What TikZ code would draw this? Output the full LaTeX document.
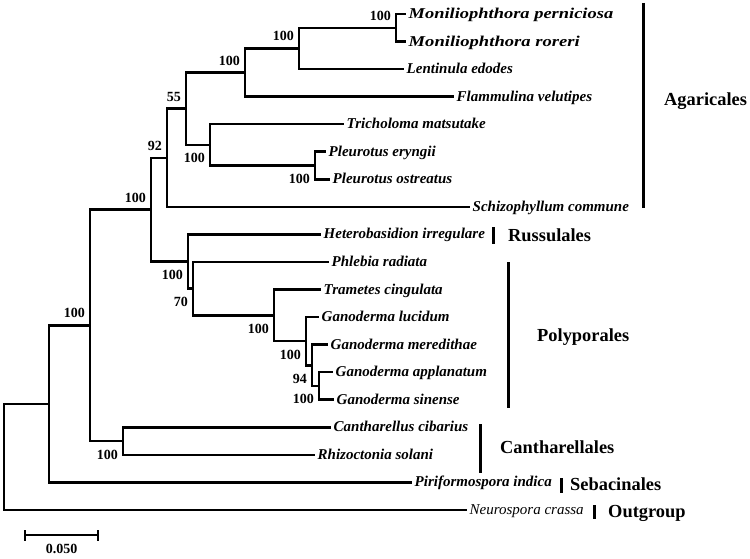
\documentclass[tikz,border=0pt]{standalone}
\usepackage{fontspec}
\setmainfont{Liberation Serif}
\usetikzlibrary{calc}

\begin{document}
\begin{tikzpicture}[x=1pt,y=-1pt,
    branch/.style={line width=2.5pt},
    taxon/.style={anchor=west,inner xsep=2.5pt,inner ysep=0pt,text height=13pt,text depth=4pt,
        font=\fontsize{15}{15}\selectfont\bfseries\itshape},
    boot/.style={anchor=east,inner sep=0pt,font=\fontsize{14}{14}\selectfont\bfseries},
    order/.style={anchor=base west,inner sep=0pt,font=\fontsize{18.4}{18.4}\selectfont\bfseries},
    cladebar/.style={line width=3pt}]
    \useasboundingbox (0,0) rectangle (750,559); % page size of the reference

    % taxa, one every 27.55pt from the top
    \foreach \n/\t/\x [count=\i from 0] in {
            mper/\scalebox{1.23}[1]{Moniliophthora perniciosa}/406, mror/\scalebox{1.24}[1]{Moniliophthora roreri}/406,
            lede/Lentinula edodes/404, fvel/Flammulina velutipes/454,
            tmat/Tricholoma matsutake/344, pery/Pleurotus eryngii/326,
            post/Pleurotus ostreatus/330, scom/Schizophyllum commune/470,
            hirr/Heterobasidion irregulare/321, prad/Phlebia radiata/329,
            tcin/Trametes cingulata/321, gluc/Ganoderma lucidum/319,
            gmer/Ganoderma meredithae/328, gapp/Ganoderma applanatum/333,
            gsin/Ganoderma sinense/334, ccib/Cantharellus cibarius/331,
            rsol/Rhizoctonia solani/315, pind/Piriformospora indica/412}{
            \node[taxon] (\n) at (\x,{14+27.55*\i}) {\t};
        }
    \node[taxon,font=\fontsize{15}{15}\selectfont\itshape] (ncra) at (467,509.9) {Neurospora crassa}; % outgroup, not bold

    % inner nodes of the tree
    \coordinate (nMon) at (396,27.8);
    \coordinate (nLent) at (299,48.4);
    \coordinate (nFlam) at (245,72.5);
    \coordinate (nPleu) at (315,165.5);
    \coordinate (nTric) at (210,144.9);
    \coordinate (n55) at (186,108.7);
    \coordinate (n92) at (167,157.8);
    \coordinate (nGap) at (319,385.9);
    \coordinate (n94) at (312,365.3);
    \coordinate (nGan) at (306,341.2);
    \coordinate (nTram) at (274,315.3);
    \coordinate (n70) at (193,288.6);
    \coordinate (nRus) at (188,261.5);
    \coordinate (nAga) at (151,209.6);
    \coordinate (nCan) at (123,441.0);
    \coordinate (nBas) at (90,325.3);
    \coordinate (nSeb) at (49,403.8);
    \coordinate (root) at (4,456.9);

    % branches, parent to child
    \foreach \a/\b in {nMon/mper,nMon/mror,nLent/nMon,nLent/lede,nFlam/nLent,nFlam/fvel,
            nPleu/pery,nPleu/post,nTric/tmat,nTric/nPleu,n55/nFlam,n55/nTric,n92/n55,n92/scom,
            nGap/gapp,nGap/gsin,n94/gmer,n94/nGap,nGan/gluc,nGan/n94,nTram/tcin,nTram/nGan,
            n70/prad,n70/nTram,nRus/hirr,nRus/n70,nAga/n92,nAga/nRus,
            nCan/ccib,nCan/rsol,nBas/nAga,nBas/nCan,nSeb/nBas,nSeb/pind,root/nSeb,root/ncra}{
            \draw[branch] (\a) |- (\b);
        }

    % bootstrap values, above or below the incoming branch
    \foreach \n/\v in {nMon/100,nLent/100,nFlam/100,n55/55,n92/92,nAga/100,nBas/100}{
            \node[boot] (b\n) at ($(\n)+(-5pt,12pt)$) {\v};
        }
    \foreach \n/\v in {nTric/100,nPleu/100,nRus/100,n70/70,nTram/100,nGan/100,n94/94,nGap/100,nCan/100}{
            \node[boot] (b\n) at ($(\n)+(-5pt,-13.5pt)$) {\v};
        }

    % orders
    \draw[cladebar] (643,3) -- (643,208);
    \node[order] (agar) at (664,106) {Agaricales};
    \draw[cladebar] (493,227) -- (493,244);
    \node[order] (russ) at (508,241) {Russulales};
    \draw[cladebar] (508,262) -- (508,408);
    \node[order] (poly) at (537,341) {Polyporales};
    \draw[cladebar] (480,424) -- (480,473);
    \node[order] (cant) at (500,453) {Cantharellales};
    \draw[cladebar] (561,478) -- (561,493);
    \node[order] (seba) at (570,490) {Sebacinales};
    \draw[cladebar] (594,505) -- (594,519);
    \node[order] (outg) at (608,517) {Outgroup};

    % scale bar
    \draw[branch] (25,535) -- (98,535);
    \draw[branch] (25,530) -- (25,541);
    \draw[branch] (98,530) -- (98,541);
    \node[anchor=base,inner sep=0pt,font=\fontsize{14}{14}\selectfont\bfseries] (scale) at (61.5,553) {0.050};
\end{tikzpicture}
\end{document}
